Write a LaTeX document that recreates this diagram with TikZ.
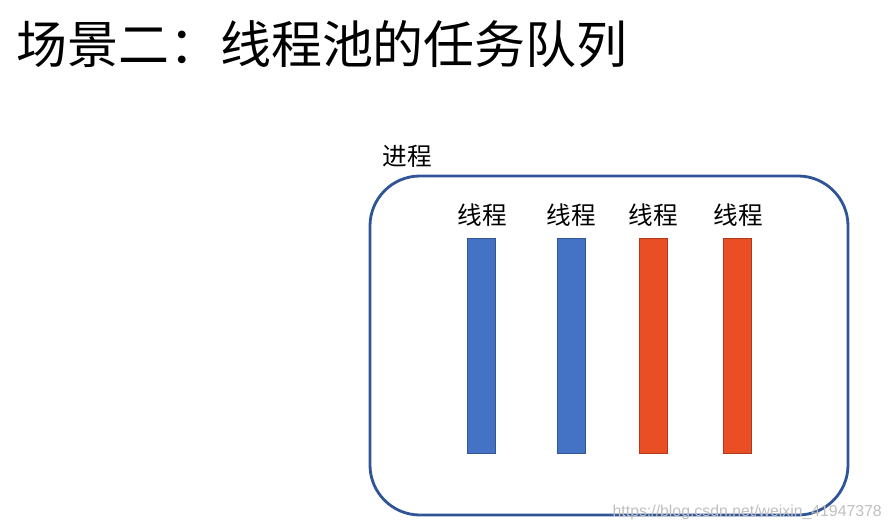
\documentclass[tikz,border=0pt]{standalone}
\usepackage{fontspec}
\setmainfont{Liberation Sans}
\newfontfamily\cjk{Noto Sans CJK SC}
\definecolor{procblue}{HTML}{2F5597}
\definecolor{threadblue}{HTML}{4472C4}
\definecolor{threadred}{HTML}{E94E24}

\begin{document}
\begin{tikzpicture}[x=0.03cm,y=-0.03cm,
  proc/.style={draw=procblue, line width=2.4pt, rounded corners=1.5cm,
    minimum width=14.34cm, minimum height=10.17cm},
  bar/.style={draw=#1!75!black, fill=#1, line width=0.4pt,
    minimum width=0.84cm, minimum height=6.45cm, inner sep=0pt},
  lbl/.style={font=\cjk\fontsize{21}{24}\selectfont, inner sep=0pt}]
\useasboundingbox (0,0) rectangle (892,531);

\node[anchor=west, inner sep=0pt, font=\cjk\fontsize{43.5}{48}\selectfont] (title) at (16,44) {场景二：线程池的任务队列};

\node[proc] (proc) at (609,345.5) {};
\node[lbl] (proclbl) at (407,156) {进程};

\node[bar=threadblue] (t1) at (481,345.5) {};
\node[bar=threadblue] (t2) at (571,345.5) {};
\node[bar=threadred] (t3) at (653,345.5) {};
\node[bar=threadred] (t4) at (737.5,345.5) {};

\node[lbl] (l1) at (482,215) {线程};
\node[lbl] (l2) at (571,215) {线程};
\node[lbl] (l3) at (653,215) {线程};
\node[lbl] (l4) at (738,215) {线程};

\node[anchor=east, inner sep=0pt, text=black!25, font=\fontsize{13.5}{15}\selectfont] (mark) at (882,512) {https://blog.csdn.net/weixin\_41947378};
\end{tikzpicture}
\end{document}
